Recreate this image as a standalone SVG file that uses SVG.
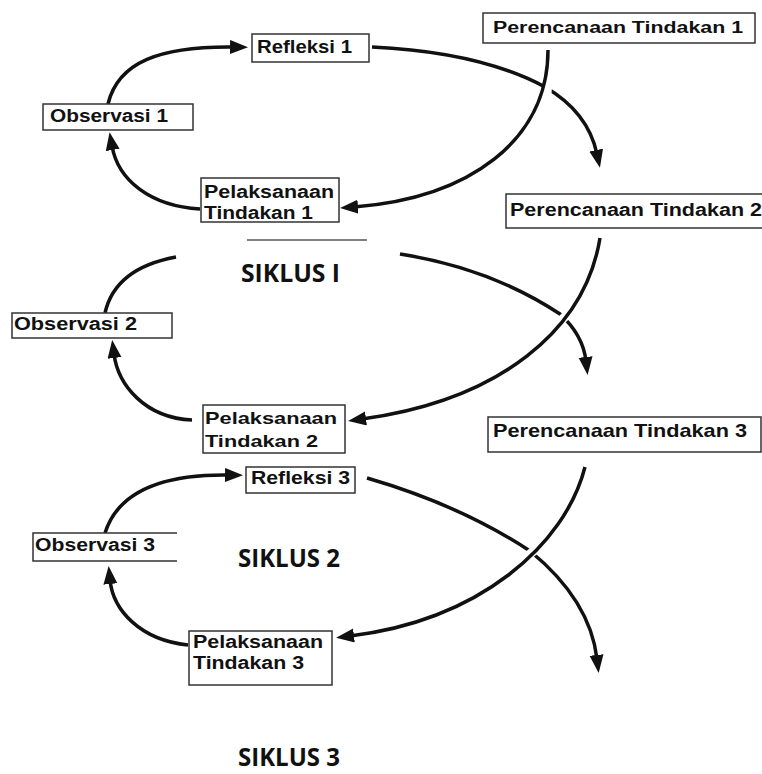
<svg xmlns="http://www.w3.org/2000/svg" width="762" height="774" viewBox="0 0 762 774">
<style>
.box{fill:#fff;stroke:#333;stroke-width:1.5}
.t{font-family:"Liberation Sans",Arial,sans-serif;font-weight:bold;fill:#111}
.sk{font-family:"Open Sans","Liberation Sans",sans-serif;font-weight:bold;font-size:25px;fill:#111}
.c{fill:none;stroke:#111;stroke-width:3.5;stroke-linecap:butt}
.halo{fill:none;stroke:#fff;stroke-width:9}
</style>
<defs>
<marker id="ah" markerUnits="userSpaceOnUse" markerWidth="20" markerHeight="16" refX="4" refY="7" orient="auto">
<path d="M0,0 L18,7 L0,14 z" fill="#111"/>
</marker>
</defs>
<rect width="762" height="774" fill="#fff"/>

<g id="connectors">
<!-- cycle 1 -->
<path class="c" d="M108,104 C118,62 160,46 234,47" marker-end="url(#ah)"/>
<path class="c" d="M200,209 C150,206 118,180 112,146" marker-end="url(#ah)"/>
<path class="c" d="M372,47 Q480,52 545,87 Q588,112 597,154" marker-end="url(#ah)"/>
<path class="halo" d="M548,58 C548,100 546,110 540,125"/>
<path class="c" d="M548,50 C548,140 470,198 354,207" marker-end="url(#ah)"/>
<!-- cycle 2 -->
<path class="c" d="M105,313 C112,282 138,264 176,257"/>
<path class="c" d="M192,420 C145,418 118,385 114,354" marker-end="url(#ah)"/>
<path class="c" d="M400,254 Q490,268 560,314 Q583,335 586,361" marker-end="url(#ah)"/>
<path class="halo" d="M592,270 C585,295 575,310 550,330"/>
<path class="c" d="M600,238 C585,330 500,400 362,419" marker-end="url(#ah)"/>
<!-- cycle 3 -->
<path class="c" d="M105,533 C118,492 160,474 229,475" marker-end="url(#ah)"/>
<path class="c" d="M188,645 C140,640 113,610 110,580" marker-end="url(#ah)"/>
<path class="c" d="M367,478 Q460,505 530,551 Q590,600 597,659" marker-end="url(#ah)"/>
<path class="halo" d="M560,520 C552,535 540,548 515,565"/>
<path class="c" d="M585,467 C565,545 480,620 350,636" marker-end="url(#ah)"/>
</g>

<line x1="247" y1="240" x2="367" y2="240" stroke="#555" stroke-width="1.5"/>

<g id="refleksi1">
<rect class="box" x="252" y="34" width="117" height="28"/>
<text class="t" x="257" y="53" font-size="18" textLength="95" lengthAdjust="spacingAndGlyphs">Refleksi 1</text>
</g>
<g id="observasi1">
<rect class="box" x="43" y="104" width="150" height="26"/>
<text class="t" x="50" y="122" font-size="18" textLength="118" lengthAdjust="spacingAndGlyphs">Observasi 1</text>
</g>
<g id="pelaksanaan1">
<rect class="box" x="201" y="178" width="138" height="44"/>
<text class="t" x="204" y="198" font-size="18" textLength="130" lengthAdjust="spacingAndGlyphs">Pelaksanaan</text>
<text class="t" x="204" y="219" font-size="18" textLength="109" lengthAdjust="spacingAndGlyphs">Tindakan 1</text>
</g>
<g id="perencanaan1">
<rect class="box" x="483" y="13" width="272" height="30"/>
<text class="t" x="493" y="33" font-size="16" textLength="250" lengthAdjust="spacingAndGlyphs">Perencanaan Tindakan 1</text>
</g>

<g id="perencanaan2">
<rect class="box" x="506" y="194" width="262" height="34"/>
<text class="t" x="510" y="216" font-size="18" textLength="252" lengthAdjust="spacingAndGlyphs">Perencanaan Tindakan 2</text>
</g>
<g id="observasi2">
<rect class="box" x="12" y="313" width="160" height="25"/>
<text class="t" x="14" y="330" font-size="18" textLength="123" lengthAdjust="spacingAndGlyphs">Observasi 2</text>
</g>
<g id="pelaksanaan2">
<rect class="box" x="203" y="405" width="142" height="48"/>
<text class="t" x="205" y="424" font-size="17" textLength="132" lengthAdjust="spacingAndGlyphs">Pelaksanaan</text>
<text class="t" x="205" y="447" font-size="17" textLength="113" lengthAdjust="spacingAndGlyphs">Tindakan 2</text>
</g>

<g id="perencanaan3">
<rect class="box" x="488" y="417" width="273" height="35" stroke="#666"/>
<text class="t" x="493" y="437" font-size="19" textLength="254" lengthAdjust="spacingAndGlyphs">Perencanaan Tindakan 3</text>
</g>
<g id="refleksi3">
<rect class="box" x="246" y="467" width="109" height="26"/>
<text class="t" x="251" y="484" font-size="18" textLength="99" lengthAdjust="spacingAndGlyphs">Refleksi 3</text>
</g>
<g id="observasi3">
<path d="M177,533 H33 V561 H177" fill="#fff" stroke="#333" stroke-width="1.5"/>
<text class="t" x="35" y="551" font-size="18" textLength="120" lengthAdjust="spacingAndGlyphs">Observasi 3</text>
</g>
<g id="pelaksanaan3">
<rect class="box" x="189" y="631" width="143" height="54"/>
<text class="t" x="193" y="648" font-size="18" textLength="130" lengthAdjust="spacingAndGlyphs">Pelaksanaan</text>
<text class="t" x="193" y="669" font-size="18" textLength="111" lengthAdjust="spacingAndGlyphs">Tindakan 3</text>
</g>

<g id="siklus1"><text class="sk" x="241" y="282" textLength="99" lengthAdjust="spacingAndGlyphs">SIKLUS I</text></g>
<g id="siklus2"><text class="sk" x="238" y="567" textLength="102" lengthAdjust="spacingAndGlyphs">SIKLUS 2</text></g>
<g id="siklus3"><text class="sk" x="238" y="766" textLength="102" lengthAdjust="spacingAndGlyphs">SIKLUS 3</text></g>
</svg>
